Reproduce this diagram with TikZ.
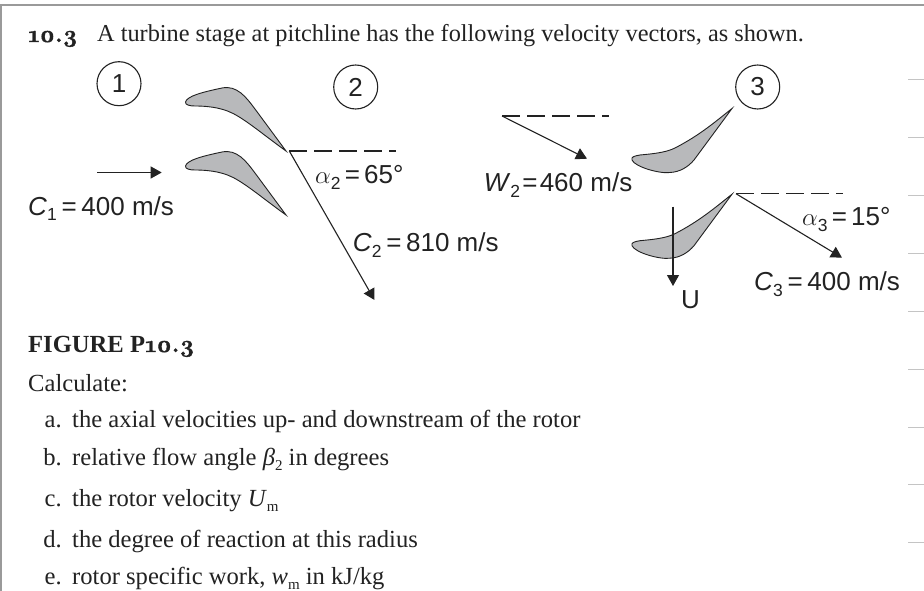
\documentclass[tikz,border=0pt]{standalone}
\usepackage{fontspec}
\setmainfont{Liberation Serif}
\newfontfamily\labelfont{Liberation Sans}
\newfontfamily\oldfont[Numbers=OldStyle,BoldFont={Latin Modern Roman/B},BoldFeatures={FakeBold=1.5}]{Latin Modern Roman}
\usetikzlibrary{arrows.meta}
\definecolor{ink}{HTML}{222222}
\definecolor{bladegray}{HTML}{B8B9BB}
\definecolor{framegray}{HTML}{9A9A9A}
\definecolor{tickgray}{HTML}{C4C4C4}
\newcommand{\subsc}[2][-6pt]{\raisebox{#1}{\fontsize{17.5}{17.5}\selectfont #2}}
\newcommand{\serifsub}[1]{\raisebox{-5pt}{\fontsize{15}{15}\selectfont #1}}
\newcommand{\eqs}{\kern2.2pt=\kern2.2pt}
\newcommand{\eqc}{\kern4.7pt=\kern4.7pt}
\newcommand{\eqa}{\kern4.2pt=\kern4.2pt}
\newcommand{\oldnum}[1]{{\oldfont\bfseries\fontsize{24}{28}\selectfont #1}}
\newcommand{\stator}{(185.5,102) .. controls (187,96) and (203,92) .. (222,88) .. controls (237,85) and (246,97) .. (255,109) -- (286,151) .. controls (265,136) and (245,119) .. (232,113) .. controls (220,107) and (205,106) .. (195,106) .. controls (190,106) and (185,105) .. cycle}
\newcommand{\rotor}{(732,108.5) .. controls (715,122) and (700,135) .. (675,148) .. controls (665,153) and (650,154) .. (640,155) .. controls (634,156) and (631,157) .. (632,160) .. controls (635,167) and (660,174) .. (670,172.5) .. controls (680,172) and (688,167) .. (694,160) -- cycle}
\tikzset{
  x=1pt,y=-1pt,
  vec/.style={draw=ink,line width=1.1pt,-{Triangle[length=11pt,width=12pt]}},
  refline/.style={draw=ink,line width=1.1pt,dash pattern=on 17.5pt off 7.5pt},
  blade/.style={draw=ink,fill=bladegray,line width=0.9pt},
  station/.style={draw=ink,circle,line width=1.1pt,minimum size=44pt,inner sep=0pt,text=ink,font=\labelfont\fontsize{26}{26}\selectfont},
  vlabel/.style={anchor=base west,inner sep=0pt,text=ink,font=\labelfont\fontsize{26}{26}\selectfont},
  body/.style={anchor=base west,inner sep=0pt,text=ink,font=\fontsize{24.6}{28}\selectfont},
  title/.style={body,font=\fontsize{24.3}{28}\selectfont},
  itemlab/.style={anchor=base east,inner sep=0pt,text=ink,font=\fontsize{24.6}{28}\selectfont},
}
\begin{document}
\begin{tikzpicture}
\useasboundingbox (0,0) rectangle (924,591);
\fill[white] (0,0) rectangle (924,591);
% page frame
\fill[framegray] (0,4) rectangle (924,6.5);
\fill[framegray] (0,4) rectangle (2,591);
\foreach \yy in {80,137.7,195.5,253.3,311,369,427,484.5,542}
  \draw[tickgray,line width=1pt] (908,\yy) -- (924,\yy);
% heading
\node[title] (num) at (28,42) {\oldnum{10.3}};
\node[title] (titletext) at (97,42) {A turbine stage at pitchline has the following velocity vectors, as shown.};
% stations
\node[station] (s1) at (119,83.7) {1};
\node[station] (s2) at (355.7,87) {2};
\node[station] (s3) at (757.7,87) {3};
% blades
\path[blade] \stator;
\path[blade,yshift=-64pt] \stator;
\path[blade] \rotor;
\path[blade,yshift=-85.7pt] \rotor;
% vectors
\coordinate (c1a) at (97,172.5); \coordinate (c1b) at (161.7,172.5);
\draw[vec] (c1a) -- (c1b);
\coordinate (o2) at (289.3,151); \coordinate (d2) at (396,151); \coordinate (c2b) at (374.5,300);
\draw[refline] (o2) -- (d2);
\draw[vec] (o2) -- (c2b);
\coordinate (ow) at (502,116); \coordinate (dw) at (609,116); \coordinate (wb) at (587,158.7);
\draw[refline] (ow) -- (dw);
\draw[vec] (ow) -- (wb);
\coordinate (o3) at (736,193.7); \coordinate (d3) at (843,193.7); \coordinate (c3b) at (842,257.7);
\draw[refline] (o3) -- (d3);
\draw[vec] (o3) -- (c3b);
\coordinate (ua) at (673,206.7); \coordinate (ub) at (673,286);
\draw[vec] (ua) -- (ub);
% velocity labels
\node[vlabel] (lc1) at (28,215) {\textit{C}\subsc[-5pt]{1}\eqc 400 m/s};
\node[vlabel] (la2) at (315,183) {\fontsize{29}{29}\selectfont$\alpha$\fontsize{26}{26}\selectfont\subsc{2}\eqa 65°};
\node[vlabel] (lc2) at (352.7,251.7) {\textit{C}\subsc{2}\eqc 810 m/s};
\node[vlabel] (lw2) at (483.7,191) {\textit{W}\subsc{2}\eqs 460 m/s};
\node[vlabel] (la3) at (802,225.7) {\fontsize{29}{29}\selectfont$\alpha$\fontsize{26}{26}\selectfont\subsc{3}\eqa 15°};
\node[vlabel] (lc3) at (754,290) {\textit{C}\subsc{3}\eqc 400 m/s};
\node[vlabel] (lu) at (681,308) {U};
% text
\node[body] (fig) at (28,352) {\textbf{FIGURE P}\oldnum{10.3}};
\node[body] (calc) at (28,391) {Calculate:};
\node[itemlab] (ia) at (62,427) {a.};
\node[body] (ta) at (72,427) {the axial velocities up- and downstream of the rotor};
\node[itemlab] (ib) at (62,465) {b.};
\node[body] (tb) at (72,465) {relative flow angle \textit{β}\serifsub{2} in degrees};
\node[itemlab] (ic) at (62,506) {c.};
\node[body] (tc) at (72,506) {the rotor velocity \textit{U}\serifsub{m}};
\node[itemlab] (id) at (62,547) {d.};
\node[body] (td) at (72,547) {the degree of reaction at this radius};
\node[itemlab] (ie) at (62,584) {e.};
\node[body] (te) at (72,584) {rotor specific work, \textit{w}\serifsub{m} in kJ/kg};
\end{tikzpicture}
\end{document}
